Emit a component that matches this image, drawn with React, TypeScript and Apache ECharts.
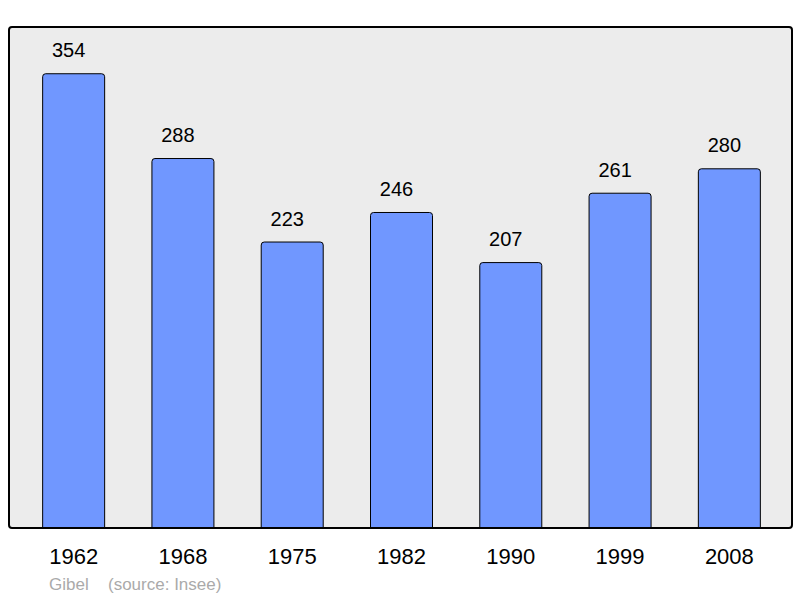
import React, { useEffect, useRef } from "react";
import * as echarts from "echarts";

const years = ["1962", "1968", "1975", "1982", "1990", "1999", "2008"];
const population = [354, 288, 223, 246, 207, 261, 280];

export default function App() {
  const ref = useRef<HTMLDivElement>(null);
  useEffect(() => {
    if (!ref.current) return;
    const chart = echarts.init(ref.current, null, { renderer: "svg" });
    chart.setOption({
      animation: false,
      textStyle: { fontFamily: "Liberation Sans, Arial, sans-serif" },
      grid: { left: 19, right: 16, top: 27, bottom: 70 },
      xAxis: {
        type: "category",
        data: years,
        axisLine: { show: false },
        axisTick: { show: false },
        axisLabel: { color: "#000", fontSize: 22, margin: 17 },
      },
      yAxis: {
        type: "value",
        min: 0,
        max: 390,
        show: false,
        splitLine: { show: false },
      },
      graphic: [
        {
          type: "rect",
          z: -10,
          shape: { x: 9, y: 27, width: 783, height: 501, r: 3 },
          style: { fill: "#ececec", stroke: "none" },
        },
        {
          type: "rect",
          z: 100,
          silent: true,
          shape: { x: 9, y: 27, width: 783, height: 501, r: 3 },
          style: { fill: "none", stroke: "#000", lineWidth: 2 },
        },
        {
          type: "text",
          x: 49,
          y: 584,
          style: {
            text: "Gibel",
            fill: "#aaaaaa",
            fontSize: 17,
            fontFamily: "Liberation Sans, Arial, sans-serif",
            verticalAlign: "middle",
          },
        },
        {
          type: "text",
          x: 108,
          y: 584,
          style: {
            text: "(source: Insee)",
            fill: "#aaaaaa",
            fontSize: 17,
            fontFamily: "Liberation Sans, Arial, sans-serif",
            verticalAlign: "middle",
          },
        },
      ],
      series: [
        {
          type: "bar",
          data: population,
          barWidth: 63,
          itemStyle: {
            color: "#7097ff",
            borderColor: "#000",
            borderWidth: 1,
            borderRadius: [3, 3, 0, 0],
          },
          label: {
            show: true,
            position: "top",
            distance: 13,
            offset: [-5, 0],
            color: "#000",
            fontSize: 20,
          },
        },
      ],
    });
    return () => chart.dispose();
  }, []);
  return <div ref={ref} style={{ width: 800, height: 598, position: "absolute", left: 0, top: 0 }} />;
}
